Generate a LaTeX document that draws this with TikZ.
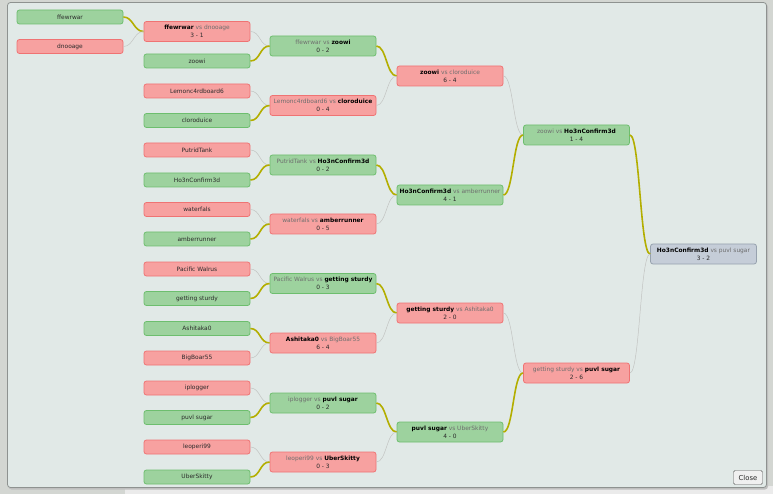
\documentclass[tikz,border=0pt]{standalone}
\usepackage{fontspec}
\setmainfont{DejaVu Sans}
\definecolor{gfill}{HTML}{9DD29E}
\definecolor{gline}{HTML}{6DBE6E}
\definecolor{rfill}{HTML}{F7A1A0}
\definecolor{rline}{HTML}{EF7373}
\definecolor{bfill}{HTML}{C5CDD8}
\definecolor{bline}{HTML}{97A2AE}
\definecolor{olivec}{HTML}{B3AE00}
\definecolor{greyc}{HTML}{C2C4C2}
\definecolor{dlgbg}{HTML}{E1E9E7}
\definecolor{dlgline}{HTML}{8E9290}
\definecolor{pagebg}{HTML}{D3D6D2}
\definecolor{losec}{HTML}{6E6E6E}
\definecolor{txtc}{HTML}{2A2A2A}
\newcommand\mwin[1]{\textbf{\color{black}#1}}
\newcommand\mlose[1]{{\color{losec}#1}}
\newcommand\vsx{{\color{losec}\ vs\ }}
\newcommand\conn[3]{\draw[#3] (#1.east) .. controls +(10,0) and +(-10,0) .. (#2.west);}
\begin{document}
\begin{tikzpicture}[x=1pt,y=-1pt,
  font=\fontsize{5.9}{7.8}\selectfont,
  box/.style={rounded corners=2.5pt, minimum width=106pt, inner sep=0pt, align=center, line width=0.8pt, text=txtc},
  gbox/.style={box, fill=gfill, draw=gline},
  rbox/.style={box, fill=rfill, draw=rline},
  bbox/.style={box, fill=bfill, draw=bline},
  one/.style={minimum height=14pt},
  two/.style={minimum height=20pt},
  winline/.style={draw=olivec, line width=1.6pt},
  loseline/.style={draw=greyc, line width=0.5pt}]
\useasboundingbox (0,0) rectangle (773,494);
\fill[pagebg] (0,0) rectangle (773,494);
\fill[black!8] (125,486) rectangle (773,494);
\fill[fill=black!25, rounded corners=3pt] (8.5,4) rectangle (768,489.5);
\draw[draw=dlgline, fill=dlgbg, rounded corners=3pt, line width=0.8pt] (7.5,2.5) rectangle (766.5,487.5);
% column 0
\node[gbox,one] (L1) at (70,17) {ffewrwar};
\node[rbox,one] (L2) at (70,46.5) {dnooage};
% column 1
\node[rbox,two] (M1) at (197,31.5) {\mwin{ffewrwar}\vsx\mlose{dnooage}\\3 - 1};
\node[gbox,one] (A2) at (197,61) {zoowi};
\node[rbox,one] (A3) at (197,91) {Lemonc4rdboard6};
\node[gbox,one] (A4) at (197,120.5) {cloroduice};
\node[rbox,one] (A5) at (197,150) {PutridTank};
\node[gbox,one] (A6) at (197,180) {Ho3nConfirm3d};
\node[rbox,one] (A7) at (197,209.5) {waterfals};
\node[gbox,one] (A8) at (197,239) {amberrunner};
\node[rbox,one] (A9) at (197,269) {Pacific Walrus};
\node[gbox,one] (A10) at (197,298.5) {getting sturdy};
\node[gbox,one] (A11) at (197,328.5) {Ashitaka0};
\node[rbox,one] (A12) at (197,358) {BigBoar55};
\node[rbox,one] (A13) at (197,388) {iplogger};
\node[gbox,one] (A14) at (197,417.5) {puvl sugar};
\node[rbox,one] (A15) at (197,447) {leoperi99};
\node[gbox,one] (A16) at (197,477) {UberSkitty};
% column 2
\node[gbox,two] (B1) at (323,46) {\mlose{ffewrwar}\vsx\mwin{zoowi}\\0 - 2};
\node[rbox,two] (B2) at (323,105.5) {\mlose{Lemonc4rdboard6}\vsx\mwin{cloroduice}\\0 - 4};
\node[gbox,two] (B3) at (323,165) {\mlose{PutridTank}\vsx\mwin{Ho3nConfirm3d}\\0 - 2};
\node[rbox,two] (B4) at (323,224) {\mlose{waterfals}\vsx\mwin{amberrunner}\\0 - 5};
\node[gbox,two] (B5) at (323,283.5) {\mlose{Pacific Walrus}\vsx\mwin{getting sturdy}\\0 - 3};
\node[rbox,two] (B6) at (323,343) {\mwin{Ashitaka0}\vsx\mlose{BigBoar55}\\6 - 4};
\node[gbox,two] (B7) at (323,403) {\mlose{iplogger}\vsx\mwin{puvl sugar}\\0 - 2};
\node[rbox,two] (B8) at (323,462) {\mlose{leoperi99}\vsx\mwin{UberSkitty}\\0 - 3};
% column 3
\node[rbox,two] (C1) at (450,76) {\mwin{zoowi}\vsx\mlose{cloroduice}\\6 - 4};
\node[gbox,two] (C2) at (450,195) {\mwin{Ho3nConfirm3d}\vsx\mlose{amberrunner}\\4 - 1};
\node[rbox,two] (C3) at (450,313) {\mwin{getting sturdy}\vsx\mlose{Ashitaka0}\\2 - 0};
\node[gbox,two] (C4) at (450,432) {\mwin{puvl sugar}\vsx\mlose{UberSkitty}\\4 - 0};
% column 4
\node[gbox,two] (D1) at (576.5,135) {\mlose{zoowi}\vsx\mwin{Ho3nConfirm3d}\\1 - 4};
\node[rbox,two] (D2) at (576.5,373) {\mlose{getting sturdy}\vsx\mwin{puvl sugar}\\2 - 6};
% column 5
\node[bbox,two] (F) at (703.5,254) {\mwin{Ho3nConfirm3d}\vsx\mlose{puvl sugar}\\3 - 2};
% close button
\node[draw=black!65, fill=black!6, rounded corners=1.5pt, inner sep=0pt, minimum width=29pt, minimum height=14pt, font=\fontsize{6.8}{7}\selectfont, text=black!85] (close) at (748,477.5) {Close};
% connectors
\conn{L1}{M1}{winline}
\conn{L2}{M1}{loseline}
\conn{M1}{B1}{loseline}
\conn{A2}{B1}{winline}
\conn{A3}{B2}{loseline}
\conn{A4}{B2}{winline}
\conn{A5}{B3}{loseline}
\conn{A6}{B3}{winline}
\conn{A7}{B4}{loseline}
\conn{A8}{B4}{winline}
\conn{A9}{B5}{loseline}
\conn{A10}{B5}{winline}
\conn{A11}{B6}{winline}
\conn{A12}{B6}{loseline}
\conn{A13}{B7}{loseline}
\conn{A14}{B7}{winline}
\conn{A15}{B8}{loseline}
\conn{A16}{B8}{winline}
\conn{B1}{C1}{winline}
\conn{B2}{C1}{loseline}
\conn{B3}{C2}{winline}
\conn{B4}{C2}{loseline}
\conn{B5}{C3}{winline}
\conn{B6}{C3}{loseline}
\conn{B7}{C4}{winline}
\conn{B8}{C4}{loseline}
\conn{C1}{D1}{loseline}
\conn{C2}{D1}{winline}
\conn{C3}{D2}{loseline}
\conn{C4}{D2}{winline}
\conn{D1}{F}{winline}
\conn{D2}{F}{loseline}
\end{tikzpicture}
\end{document}
